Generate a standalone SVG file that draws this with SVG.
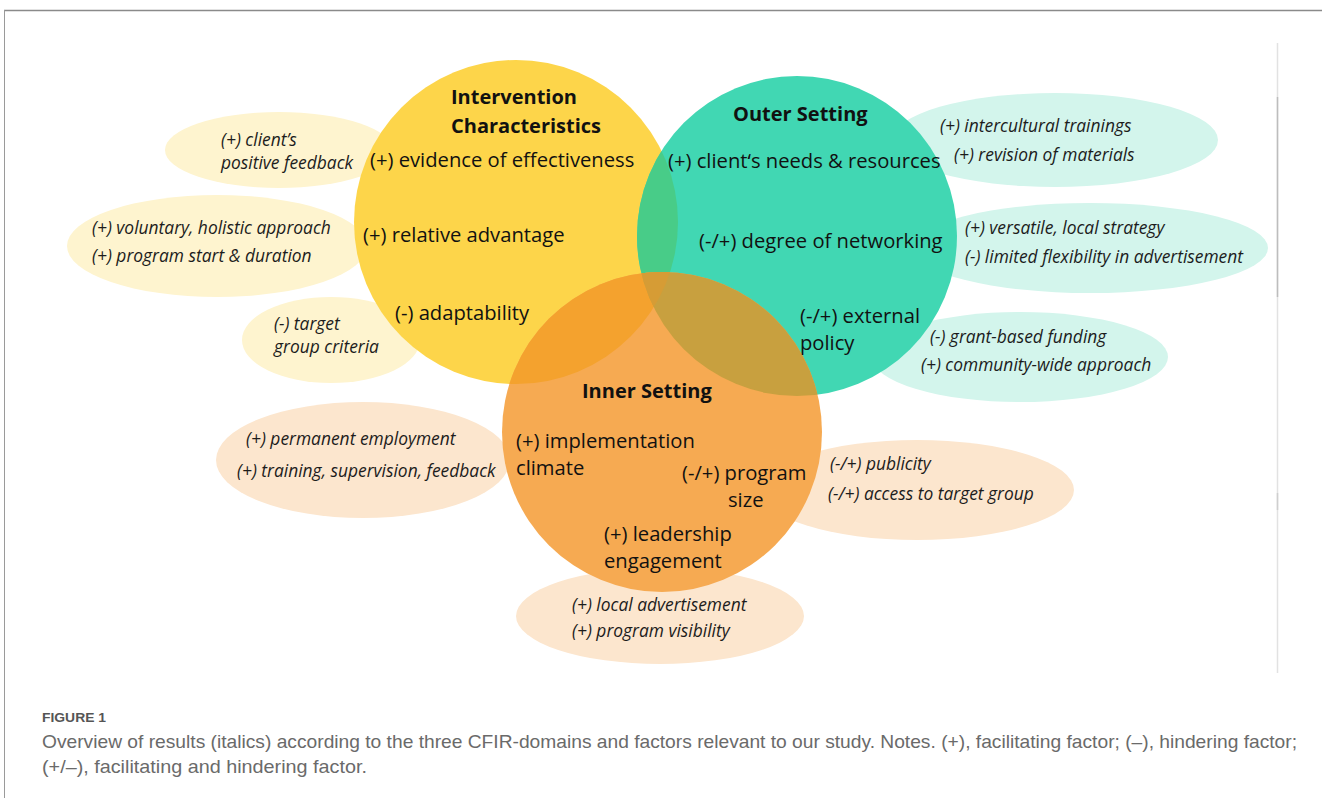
<svg xmlns="http://www.w3.org/2000/svg" width="1322" height="798" viewBox="0 0 1322 798">
  <style>
    .domain { font-family: "Open Sans", "Noto Sans", sans-serif; font-size: 20.2px; fill: #111; }
    .title { font-family: "Open Sans", "Noto Sans", sans-serif; font-size: 20px; font-weight: 700; fill: #111; }
    .result { font-family: "Open Sans", "Noto Sans", sans-serif; font-size: 17.4px; font-style: italic; fill: #1c1c1c; }
    .cap-head { font-family: "Liberation Sans", Arial, sans-serif; font-size: 13.5px; font-weight: 700; fill: #555; }
    .cap { font-family: "Liberation Sans", Arial, sans-serif; font-size: 18.5px; fill: #6a6a6a; }
    .y-soft { fill: #FEF4CF; }
    .t-soft { fill: #D3F5EC; }
    .o-soft { fill: #FCE6CE; }
  </style>
  <defs>
    <clipPath id="clipIntervention"><circle cx="516" cy="222" r="162"/></clipPath>
    <clipPath id="clipOuter"><circle cx="797" cy="236" r="160"/></clipPath>
  </defs>

  <!-- page frame -->
  <rect x="0" y="0" width="1322" height="798" fill="#fff"/>
  <line x1="4" y1="10.5" x2="1322" y2="10.5" stroke="#8a8a8a" stroke-width="1.5"/>
  <line x1="4.5" y1="10" x2="4.5" y2="798" stroke="#9a9a9a" stroke-width="1"/>
  <line x1="1277.5" y1="43" x2="1277.5" y2="673" stroke="#e2e2e2" stroke-width="1.5"/>
  <line x1="1277.5" y1="97" x2="1277.5" y2="297" stroke="#bdbdbd" stroke-width="1.5"/>
  <line x1="1277.5" y1="493" x2="1277.5" y2="510" stroke="#cfcfcf" stroke-width="1.5"/>

  <!-- result ellipses (drawn under the domain circles) -->
  <g id="res-client-feedback">
    <ellipse class="y-soft" cx="279" cy="150" rx="114" ry="38"/>
  </g>
  <g id="res-voluntary">
    <ellipse class="y-soft" cx="217" cy="246" rx="150" ry="51"/>
  </g>
  <g id="res-target-criteria">
    <ellipse class="y-soft" cx="331" cy="340" rx="89" ry="43"/>
  </g>
  <g id="res-intercultural">
    <ellipse class="t-soft" cx="1055" cy="140" rx="163" ry="47"/>
  </g>
  <g id="res-versatile">
    <ellipse class="t-soft" cx="1090" cy="248" rx="178" ry="45"/>
  </g>
  <g id="res-funding">
    <ellipse class="t-soft" cx="1020" cy="357" rx="148" ry="45"/>
  </g>
  <g id="res-employment">
    <ellipse class="o-soft" cx="363" cy="460" rx="147" ry="58"/>
  </g>
  <g id="res-publicity">
    <ellipse class="o-soft" cx="917" cy="490" rx="157" ry="50"/>
  </g>
  <g id="res-advertisement">
    <ellipse class="o-soft" cx="660" cy="616" rx="144" ry="48"/>
  </g>

  <!-- CFIR domain circles with their overlaps -->
  <g id="domain-circles">
    <circle cx="516" cy="222" r="162" fill="#FDD54A"/>
    <circle cx="797" cy="236" r="160" fill="#41D7B3"/>
    <circle cx="797" cy="236" r="160" fill="#48CC88" clip-path="url(#clipIntervention)"/>
    <circle cx="662" cy="432" r="160" fill="#F6AA52"/>
    <circle cx="662" cy="432" r="160" fill="#F4A22E" clip-path="url(#clipIntervention)"/>
    <circle cx="662" cy="432" r="160" fill="#C8A03F" clip-path="url(#clipOuter)"/>
    <g clip-path="url(#clipIntervention)">
      <circle cx="662" cy="432" r="160" fill="#D69C35" clip-path="url(#clipOuter)"/>
    </g>
  </g>

  <!-- Intervention Characteristics -->
  <g id="intervention-characteristics">
    <text class="title" x="451" y="104">Intervention</text>
    <text class="title" x="451" y="133">Characteristics</text>
    <text class="domain" x="370" y="167">(+) evidence of effectiveness</text>
    <text class="domain" x="363" y="242">(+) relative advantage</text>
    <text class="domain" x="395" y="320">(-) adaptability</text>
  </g>

  <!-- Outer Setting -->
  <g id="outer-setting">
    <text class="title" x="733" y="121">Outer Setting</text>
    <text class="domain" x="668" y="168">(+) client‘s needs &amp; resources</text>
    <text class="domain" x="699" y="248">(-/+) degree of networking</text>
    <text class="domain" x="800" y="323">(-/+) external</text>
    <text class="domain" x="800" y="350">policy</text>
  </g>

  <!-- Inner Setting -->
  <g id="inner-setting">
    <text class="title" x="582" y="398">Inner Setting</text>
    <text class="domain" x="516" y="448">(+) implementation</text>
    <text class="domain" x="516" y="475">climate</text>
    <text class="domain" x="682" y="480">(-/+) program</text>
    <text class="domain" x="728" y="507">size</text>
    <text class="domain" x="604" y="541">(+) leadership</text>
    <text class="domain" x="604" y="568">engagement</text>
  </g>

  <!-- result labels -->
  <g id="result-labels">
    <text class="result" x="221" y="146">(+) client’s</text>
    <text class="result" x="221" y="169">positive feedback</text>
    <text class="result" x="92" y="234">(+) voluntary, holistic approach</text>
    <text class="result" x="92" y="262">(+) program start &amp; duration</text>
    <text class="result" x="274" y="330">(-) target</text>
    <text class="result" x="274" y="353">group criteria</text>
    <text class="result" x="940" y="132">(+) intercultural trainings</text>
    <text class="result" x="954" y="161">(+) revision of materials</text>
    <text class="result" x="965" y="234">(+) versatile, local strategy</text>
    <text class="result" x="965" y="263">(-) limited flexibility in advertisement</text>
    <text class="result" x="930" y="343">(-) grant-based funding</text>
    <text class="result" x="921" y="371">(+) community-wide approach</text>
    <text class="result" x="246" y="445">(+) permanent employment</text>
    <text class="result" x="237" y="477">(+) training, supervision, feedback</text>
    <text class="result" x="830" y="470">(-/+) publicity</text>
    <text class="result" x="828" y="500">(-/+) access to target group</text>
    <text class="result" x="572" y="611">(+) local advertisement</text>
    <text class="result" x="572" y="637">(+) program visibility</text>
  </g>

  <!-- caption -->
  <g id="caption">
    <text class="cap-head" x="42" y="722" textLength="64" lengthAdjust="spacingAndGlyphs">FIGURE 1</text>
    <text class="cap" x="42" y="748" textLength="1255" lengthAdjust="spacingAndGlyphs">Overview of results (italics) according to the three CFIR-domains and factors relevant to our study. Notes. (+), facilitating factor; (–), hindering factor;</text>
    <text class="cap" x="42" y="773" textLength="325" lengthAdjust="spacingAndGlyphs">(+/–), facilitating and hindering factor.</text>
  </g>
</svg>
